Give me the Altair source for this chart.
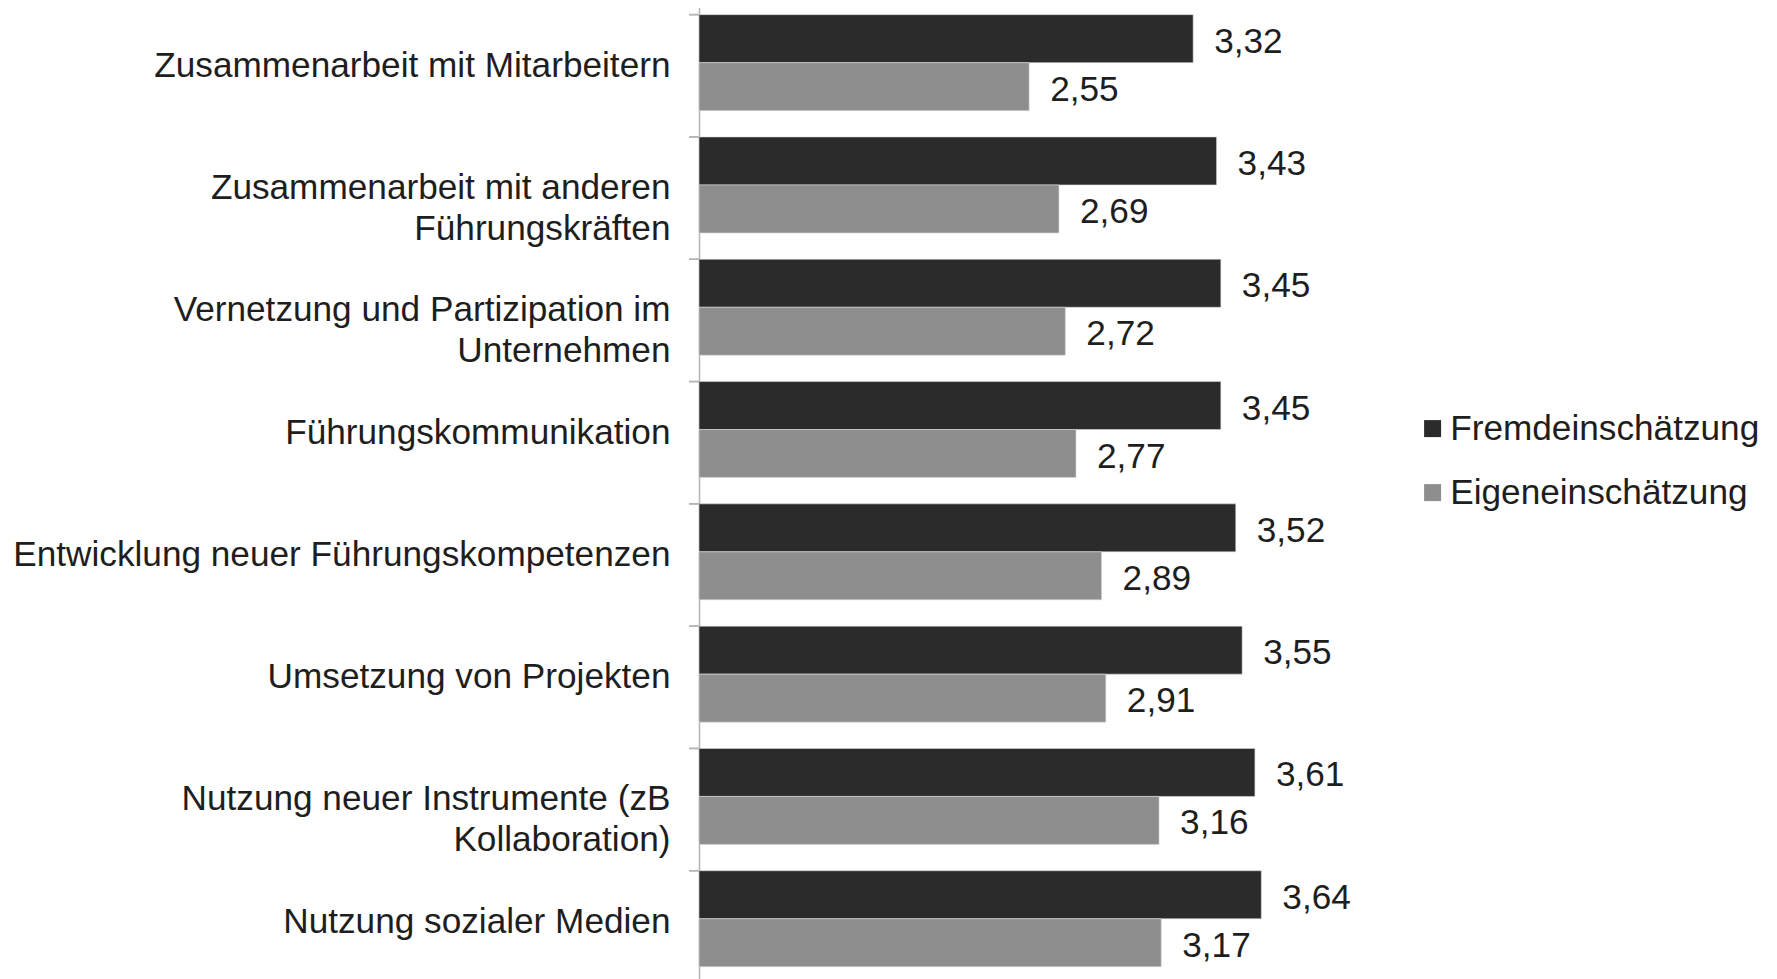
import altair as alt
import pandas as pd

categories = [
    "Zusammenarbeit mit Mitarbeitern",
    "Zusammenarbeit mit anderen\nFührungskräften",
    "Vernetzung und Partizipation im\nUnternehmen",
    "Führungskommunikation",
    "Entwicklung neuer Führungskompetenzen",
    "Umsetzung von Projekten",
    "Nutzung neuer Instrumente (zB\nKollaboration)",
    "Nutzung sozialer Medien",
]
series = ["Fremdeinschätzung", "Eigeneinschätzung"]
fremd = [3.32, 3.43, 3.45, 3.45, 3.52, 3.55, 3.61, 3.64]
eigen = [2.55, 2.69, 2.72, 2.77, 2.89, 2.91, 3.16, 3.17]
colors = ["#2b2b2b", "#8e8e8e"]
axis_start = 1

rows = []
for c, f, e in zip(categories, fremd, eigen):
    rows.append({"cat": c, "series": series[0], "value": f, "label": f"{f:.2f}".replace(".", ",")})
    rows.append({"cat": c, "series": series[1], "value": e, "label": f"{e:.2f}".replace(".", ",")})
df = pd.DataFrame(rows)

FONT = "Liberation Sans"

y_enc = alt.Y(
    "cat:N",
    sort=categories,
    scale=alt.Scale(range=[-6.5, 971.9], paddingInner=0.215, paddingOuter=0.1075),
    axis=alt.Axis(
        title=None,
        labelExpr="split(datum.label, '\\n')",
        labelFont=FONT,
        labelFontSize=35.2,
        labelColor="#1e1e1e",
        labelLineHeight=41,
        labelPadding=29,
        labelOffset=3,
        labelLimit=0,
        ticks=False,
        domainColor="#b4b4b4",
        domainWidth=1.5,
        grid=False,
    ),
)
yoff = alt.YOffset("series:N", sort=series, scale=alt.Scale(paddingInner=0, paddingOuter=0))
x_enc = alt.X("value:Q", scale=alt.Scale(domain=[1, 4], nice=False, zero=False), axis=None)

base = alt.Chart(df)

bars = base.mark_bar(stroke="#d8d8d8", strokeWidth=0.6).encode(
    y=y_enc,
    yOffset=yoff,
    x=x_enc,
    x2=alt.datum(axis_start),
    color=alt.Color(
        "series:N",
        sort=series,
        scale=alt.Scale(domain=series, range=colors),
        legend=alt.Legend(
            title=None,
            orient="none",
            legendX=716,
            legendY=403,
            symbolType="square",
            symbolSize=289,
            symbolStrokeWidth=0,
            labelFont=FONT,
            labelFontSize=35.2,
            labelColor="#1e1e1e",
            labelOffset=0,
            rowPadding=28,
            padding=0,
            labelLimit=0,
        ),
    ),
)

texts = base.mark_text(
    align="left", baseline="middle", dx=21, dy=3, font=FONT, fontSize=35.2, color="#1e1e1e"
).encode(
    y=alt.Y("cat:N", sort=categories),
    yOffset=yoff,
    x=x_enc,
    text="label:N",
)

ticks = base.mark_rule(color="#b4b4b4", strokeWidth=1.5).encode(
    y=alt.Y("cat:N", sort=categories, bandPosition=0),
    x=alt.value(-10),
    x2=alt.value(0),
)

chart = (
    alt.layer(bars, texts, ticks)
    .properties(width=639, height=960, padding={"left": 4, "top": 0, "right": 5, "bottom": 0})
    .configure(background="white", view=alt.ViewConfig(stroke="transparent", strokeWidth=0))
)

chart.save("out.html", embed_options={"renderer": "svg", "actions": False})
